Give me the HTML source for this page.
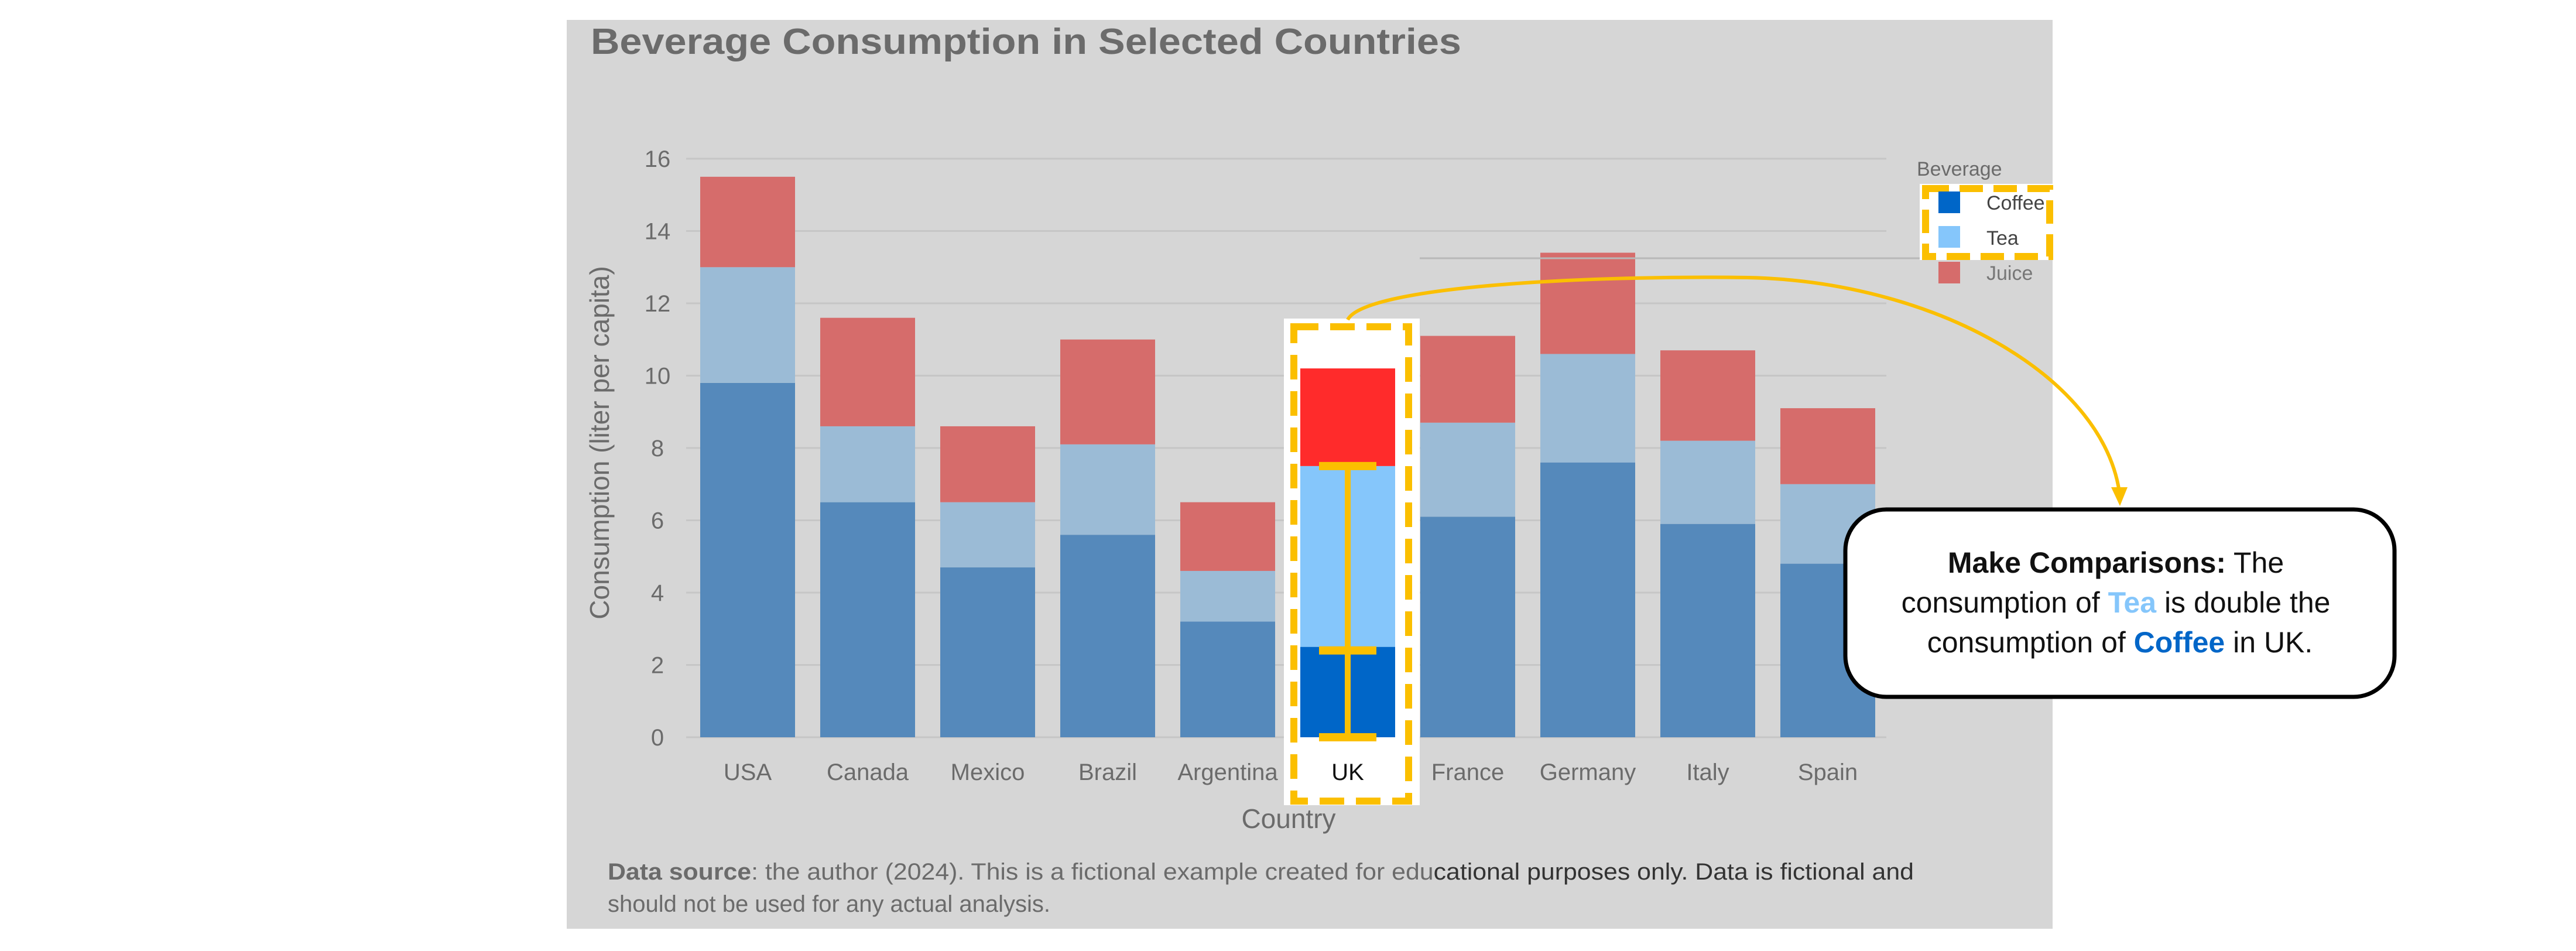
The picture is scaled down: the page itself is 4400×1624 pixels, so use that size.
<!DOCTYPE html>
<html><head><meta charset="utf-8"><style>
html,body{margin:0;padding:0;background:#fff;}
svg{display:block;font-family:"Liberation Sans",sans-serif;}
</style></head><body>
<svg id="chart" width="4400" height="1624" viewBox="0 0 4400 1624" xmlns="http://www.w3.org/2000/svg">
<rect x="968" y="34" width="2538" height="1552" fill="#d6d6d6"/>
<text x="1009" y="92" font-size="62" font-weight="bold" fill="#6b6b6b" textLength="1487" lengthAdjust="spacingAndGlyphs">Beverage Consumption in Selected Countries</text>
<g id="grid"></g>
<g id="yticks"></g>
<rect x="2193" y="544" width="232" height="831" fill="#ffffff"/>
<g id="bars"></g>
<g id="xticks"></g>
<rect x="2210" y="558" width="196" height="810" fill="none" stroke="#fbbf00" stroke-width="12" stroke-dasharray="42,20"/>
<g id="errbar"></g>
<text x="2201" y="1414" font-size="46" fill="#6b6b6b" text-anchor="middle">Country</text>
<text transform="translate(1040,756) rotate(-90)" font-size="46" fill="#6b6b6b" text-anchor="middle">Consumption (liter per capita)</text>
<line x1="2425" y1="441" x2="3506" y2="441" stroke="#b8b8b8" stroke-width="3"/>
<g>
<text x="3274" y="300" font-size="34" fill="#6b6b6b">Beverage</text>
<rect x="3279" y="314" width="228" height="130" fill="#ffffff"/>
<rect x="3289" y="322" width="212" height="116" fill="none" stroke="#fbbf00" stroke-width="12" stroke-dasharray="40,18"/>
<rect x="3311" y="327" width="37" height="37" fill="#0066c8"/>
<text x="3393" y="358" font-size="34" fill="#444">Coffee</text>
<rect x="3311" y="386" width="37" height="37" fill="#85c6fb"/>
<text x="3393" y="418" font-size="34" fill="#444">Tea</text>
<rect x="3311" y="447" width="37" height="37" fill="#d66c6b"/>
<text x="3393" y="478" font-size="34" fill="#777">Juice</text>
</g>
<path d="M2302,546 C2330,490 2700,470 2985,474 C3300,480 3590,640 3620,840" fill="none" stroke="#fbbf00" stroke-width="6"/>
<polygon points="3606,832 3634,832 3621,864" fill="#fbbf00"/>
<rect x="3152" y="870" width="938" height="320" rx="70" fill="#ffffff" stroke="#000" stroke-width="7"/>
<text font-size="50" fill="#111" text-anchor="middle">
<tspan x="3621" y="978"><tspan font-weight="bold">Make Comparisons:</tspan> The</tspan>
<tspan x="3621" y="1046">consumption of <tspan font-weight="bold" fill="#85c6fb">Tea</tspan> is double the</tspan>
<tspan x="3621" y="1114">consumption of <tspan font-weight="bold" fill="#0066c8">Coffee</tspan> in UK.</tspan>
</text>
<text font-size="40" fill="#6b6b6b">
<tspan x="1038" y="1502" textLength="2231" lengthAdjust="spacingAndGlyphs"><tspan font-weight="bold">Data source</tspan>: the author (2024). This is a fictional example created for edu<tspan fill="#333">cational purposes only. Data is fictional and</tspan></tspan>
<tspan x="1038" y="1557">should not be used for any actual analysis.</tspan>
</text>
</svg>
<script>
const countries=["USA","Canada","Mexico","Brazil","Argentina","UK","France","Germany","Italy","Spain"];
const coffee=[9.8,6.5,4.7,5.6,3.2,2.5,6.1,7.6,5.9,4.8];
const tea=[3.2,2.1,1.8,2.5,1.4,5.0,2.6,3.0,2.3,2.2];
const juice=[2.5,3.0,2.1,2.9,1.9,2.7,2.4,2.8,2.5,2.1];
const yTicks=[0,2,4,6,8,10,12,14,16];
const highlight="UK";
const NS="http://www.w3.org/2000/svg";
const y0=1259,yUnit=61.75,x0=1277,step=205,bw=162;
function ys(v){return y0-v*yUnit;}
function xs(i){return x0+i*step;}
function mk(tag,attrs,parent){const e=document.createElementNS(NS,tag);for(const k in attrs)e.setAttribute(k,attrs[k]);parent.appendChild(e);return e;}
const grid=document.getElementById('grid'),yt=document.getElementById('yticks'),bars=document.getElementById('bars'),xt=document.getElementById('xticks'),eb=document.getElementById('errbar');
yTicks.forEach(t=>{
  const l=mk('line',{x1:1172,x2:3222,y1:ys(t),y2:ys(t),stroke:'#c6c6c6','stroke-width':3},grid);
  
  
  const tx=mk('text',{x:1123,y:ys(t)+14,'font-size':40,fill:'#6b6b6b','text-anchor':'middle'},yt);
  tx.textContent=t;
  
  
});
countries.forEach((c,i)=>{
  const hl=c===highlight;
  const cols=hl?['#0066c8','#85c6fb','#ff2b2b']:['#5589bb','#9bbbd6','#d66c6b'];
  const vals=[coffee[i],tea[i],juice[i]],names=['coffee','tea','juice'];
  let base=0;
  vals.forEach((v,k)=>{
    const r=mk('rect',{x:xs(i)-bw/2,y:ys(base+v),width:bw,height:v*yUnit,fill:cols[k]},bars);
    
    
    base+=v;
  });
  const tx=mk('text',{x:xs(i),y:1332,'font-size':40,fill:hl?'#111':'#6b6b6b','text-anchor':'middle'},xt);
  tx.textContent=c;
  
  
  if(hl){
    const cx=xs(i),top=ys(coffee[i]+tea[i]),mid=ys(coffee[i]-0.1),bot=ys(0);
    const v=mk('line',{x1:cx,x2:cx,y1:top,y2:bot,stroke:'#fbbf00','stroke-width':10},eb);
    
    
    [top,mid,bot].forEach((yy,j)=>{
      const cap=mk('line',{x1:cx-49,x2:cx+49,y1:yy,y2:yy,stroke:'#fbbf00','stroke-width':14},eb);
      
      
    });
  }
});
</script>
</body></html>
